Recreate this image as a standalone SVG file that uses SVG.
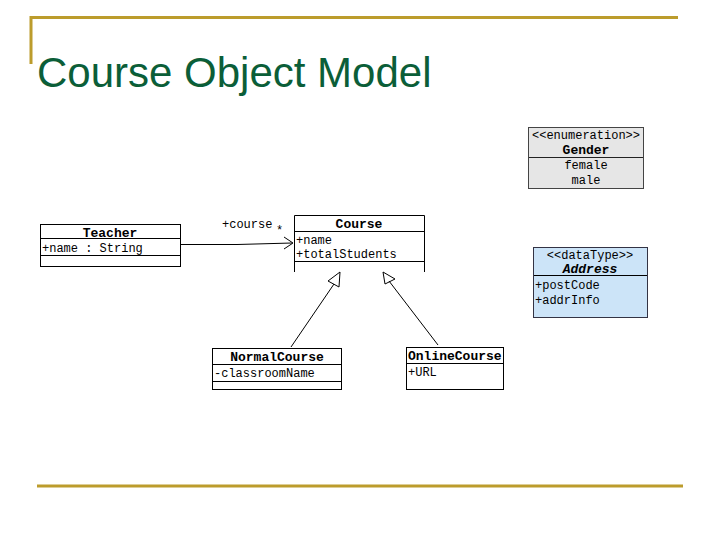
<svg xmlns="http://www.w3.org/2000/svg" width="720" height="540" viewBox="0 0 720 540">
<style>
.box{fill:#fff;stroke:#000;stroke-width:1}
.sep{stroke:#000;stroke-width:1}
.t{font-family:"Liberation Mono","DejaVu Sans Mono",monospace;font-size:12px;fill:#000}
.h{font-family:"Liberation Mono","DejaVu Sans Mono",monospace;font-size:13px;font-weight:bold;fill:#000}
.c{text-anchor:middle}
.gold{stroke:#BC9C2C;stroke-width:3;fill:none}
.conn{stroke:#000;stroke-width:1;fill:none}
</style>
<rect width="720" height="540" fill="#fff"/>
<g id="frame">
<path class="gold" d="M31,64 V17.5 H678"/>
<path class="gold" d="M37,486 H683"/>
<text x="37" y="87" font-family="Liberation Sans,Arial,sans-serif" font-size="42" fill="#0B5E38">Course Object Model</text>
</g>
<g id="gender">
<rect x="528.5" y="127.5" width="115" height="61" fill="#E6E6E6" stroke="#444"/>
<line x1="529" y1="157.5" x2="643" y2="157.5" stroke="#222"/>
<text class="t c" x="586" y="139">&lt;&lt;enumeration&gt;&gt;</text>
<text class="h c" x="586" y="154">Gender</text>
<text class="t c" x="586" y="169">female</text>
<text class="t c" x="586" y="184">male</text>
</g>
<g id="address">
<rect x="533.5" y="247.5" width="114" height="70" fill="#CCE4F8" stroke="#334"/>
<line x1="534" y1="275.5" x2="647" y2="275.5" stroke="#000"/>
<text class="t c" x="590" y="259">&lt;&lt;dataType&gt;&gt;</text>
<text class="h c" x="590" y="273" font-style="italic">Address</text>
<text class="t" x="535" y="289">+postCode</text>
<text class="t" x="535" y="304">+addrInfo</text>
</g>
<g id="teacher">
<rect class="box" x="40.5" y="224.5" width="140" height="42"/>
<line class="sep" x1="41" y1="238.5" x2="180" y2="238.5"/>
<line class="sep" x1="41" y1="255.5" x2="180" y2="255.5"/>
<text class="h c" x="110" y="237">Teacher</text>
<text class="t" x="42" y="252">+name : String</text>
</g>
<g id="course">
<path class="conn" d="M294.5,272 V215.5 H424.5 V272"/>
<line class="sep" x1="295" y1="231.5" x2="424" y2="231.5"/>
<line class="sep" x1="295" y1="261.5" x2="424" y2="261.5"/>
<text class="h c" x="359" y="228">Course</text>
<text class="t" x="296" y="244">+name</text>
<text class="t" x="296" y="258">+totalStudents</text>
</g>
<g id="normalcourse">
<rect class="box" x="212.5" y="348.5" width="129" height="41"/>
<line class="sep" x1="213" y1="364.5" x2="341" y2="364.5"/>
<line class="sep" x1="213" y1="381.5" x2="341" y2="381.5"/>
<text class="h c" x="277" y="361">NormalCourse</text>
<text class="t" x="214" y="377">-classroomName</text>
</g>
<g id="onlinecourse">
<rect class="box" x="406.5" y="347.5" width="97" height="42"/>
<line class="sep" x1="407" y1="363.5" x2="503" y2="363.5"/>
<text class="h" x="408" y="360">OnlineCourse</text>
<text class="t" x="408" y="376">+URL</text>
</g>
<g id="connectors">
<path class="conn" d="M181,244.5 H237 L292,243"/>
<path class="conn" d="M284,237 L293,243 L284,249"/>
<text class="t" x="222" y="228">+course</text>
<text class="t" x="276" y="234">*</text>
<path class="conn" d="M291,347 L334,284"/>
<path class="conn" fill="#fff" d="M340,272 L339,287 L328,281 Z"/>
<path class="conn" d="M438,345 L389,281"/>
<path class="conn" fill="#fff" d="M383,272 L395,279 L385,284 Z"/>
</g>
</svg>
